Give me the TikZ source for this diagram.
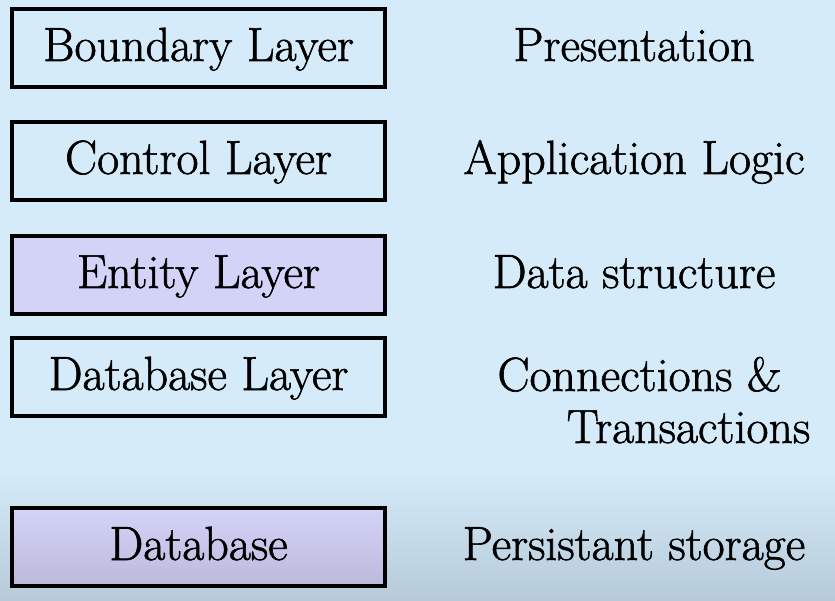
\documentclass[tikz,border=0pt]{standalone}
\definecolor{bgblue}{HTML}{D6EBF9}
\definecolor{bgbottom}{HTML}{B6CAD9}
\definecolor{lav}{HTML}{D3D3F8}
\definecolor{lavdark}{HTML}{BCBADB}
\newcommand\heavyfont{\fontsize{48}{58}\selectfont\special{pdf:literal direct 2 Tr 0.6 w}}
\begin{document}
\begin{tikzpicture}[x=1pt,y=-1pt,
  layerbox/.style={draw=black, line width=4pt, minimum width=373pt, minimum height=78pt,
    inner sep=0pt, text height=36pt, text depth=10pt, font=\heavyfont},
  plainbox/.style={layerbox, fill=bgblue},
  lavbox/.style={layerbox, fill=lav},
  desc/.style={anchor=base, inner sep=0pt, font=\heavyfont}]
\fill[bgblue] (0,0) rectangle (835,601);
\shade[top color=bgblue, bottom color=bgbottom] (0,470) rectangle (835,601);
\useasboundingbox (0,0) rectangle (835,601);

\node[plainbox] (boundary) at (198.5,48) {Boundary Layer};
\node[plainbox] (control) at (198.5,161) {Control Layer};
\node[lavbox] (entity) at (198.5,275) {Entity Layer};
\node[plainbox] (dblayer) at (198.5,377) {Database Layer};
\node[layerbox, top color=lav, bottom color=lavdark] (database) at (198.5,547) {Database};

\node[desc] (pres) at (634,61) {Presentation};
\node[desc] (applogic) at (634,174) {Application Logic};
\node[desc] (datastruct) at (634,288) {Data structure};
\node[desc] (conn) at (639.5,391) {Connections \&};
\node[desc] (trans) at (688.5,443) {Transactions};
\node[desc] (persist) at (634,560) {Persistant storage};
\end{tikzpicture}
\end{document}
